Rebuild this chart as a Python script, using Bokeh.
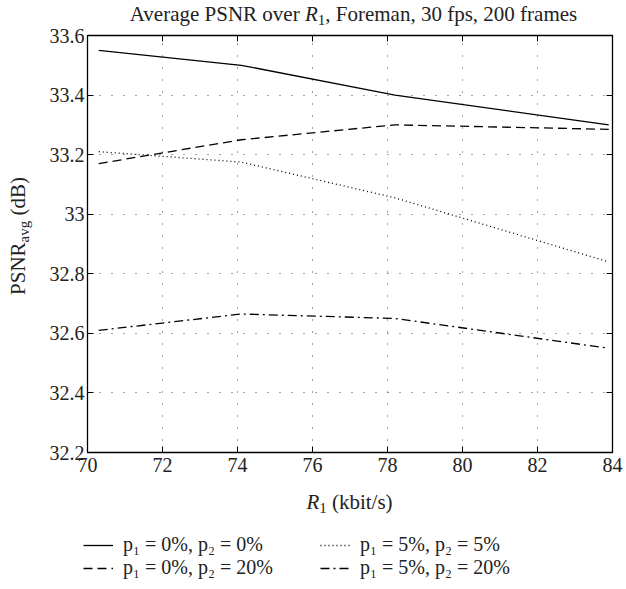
from bokeh.plotting import figure
from bokeh.models import Legend, LegendItem, LinearAxis, FixedTicker, Div
from bokeh.layouts import column, row
from bokeh.embed import file_html
from bokeh.resources import INLINE

# ---- data ----
r1 = [70.3, 74.1, 78.2, 83.9]
psnr_p0_p0 = [33.55, 33.50, 33.40, 33.30]
psnr_p0_p20 = [33.17, 33.25, 33.30, 33.285]
psnr_p5_p5 = [33.21, 33.175, 33.055, 32.84]
psnr_p5_p20 = [32.61, 32.665, 32.65, 32.55]
series_labels = ["p\u2081 = 0%, p\u2082 = 0%", "p\u2081 = 0%, p\u2082 = 20%",
                 "p\u2081 = 5%, p\u2082 = 5%", "p\u2081 = 5%, p\u2082 = 20%"]
series_dashes = ["solid", "9 5", "1 3", "9 4 2 4"]
x_ticks = [70, 72, 74, 76, 78, 80, 82, 84]
x_tick_labels = ["70", "72", "74", "76", "78", "80", "82", "84"]
y_ticks = [32.2, 32.4, 32.6, 32.8, 33.0, 33.2, 33.4, 33.6]
y_tick_labels = ["32.2", "32.4", "32.6", "32.8", "33", "33.2", "33.4", "33.6"]
title_html = "Average PSNR over <i>R</i><span class='s'>1</span>, Foreman, 30 fps, 200 frames"
xlabel_html = "<i>R</i><span class='s'>1</span> (kbit/s)"
ylabel_html = "PSNR<span class='s'>avg</span> (dB)"

FONT = "Liberation Serif"
FS = "20px"
TXT = "#222222"
LW = 1.3

base_css = ("font-family:'Liberation Serif';font-size:21px;color:#222;white-space:nowrap;")
sub_css = "<style>.s{font-size:15px;vertical-align:-4px;}</style>"

# ---- main plot ----
p = figure(width=584, height=471, x_range=(70, 84), y_range=(32.2, 33.6),
           output_backend="svg", toolbar_location=None,
           min_border_left=47, min_border_right=12, min_border_top=12,
           min_border_bottom=42, margin=0)
p.title.visible = False
p.outline_line_color = "black"
p.outline_line_width = LW
p.border_fill_color = None

top_ax = LinearAxis()
right_ax = LinearAxis()
p.add_layout(top_ax, "above")
p.add_layout(right_ax, "right")

for ax in p.xaxis:
    ax.ticker = FixedTicker(ticks=x_ticks)
    ax.major_label_overrides = dict(zip(x_ticks, x_tick_labels))
for ax in p.yaxis:
    ax.ticker = FixedTicker(ticks=y_ticks)
    ax.major_label_overrides = dict(zip(y_ticks, y_tick_labels))

for ax in p.xaxis + p.yaxis:
    ax.major_tick_in = 6
    ax.major_tick_out = 0
    ax.minor_tick_line_color = None
    ax.axis_line_color = None
    ax.major_tick_line_color = "black"
    ax.major_label_text_font = FONT
    ax.major_label_text_font_size = FS
    ax.major_label_text_color = TXT
for ax in (top_ax, right_ax):
    ax.major_label_text_font_size = "0px"
    ax.major_label_text_color = None
    ax.major_label_standoff = 0
p.xaxis[0].major_label_standoff = 9
p.yaxis[0].major_label_standoff = 3

for g in p.xgrid + p.ygrid:
    g.grid_line_color = "#444444"
    g.grid_line_dash = "1 11"
    g.grid_line_width = 1

series = [psnr_p0_p0, psnr_p0_p20, psnr_p5_p5, psnr_p5_p20]
for vals, dash in zip(series, series_dashes):
    p.line(r1, vals, line_color="black", line_width=LW, line_dash=dash)

# ---- legend strip ----
lg = figure(width=624, height=66, x_range=(0, 1), y_range=(0, 1),
            x_axis_location=None, y_axis_location=None,
            output_backend="svg", toolbar_location=None, min_border=0, margin=0)
lg.title.visible = False
lg.grid.visible = False
lg.outline_line_color = None
items = []
for lab, dash in zip(series_labels, series_dashes):
    rr = lg.line(x=[-2, -1], y=[-2, -1], line_color="black", line_width=LW, line_dash=dash)
    items.append(LegendItem(label=lab, renderers=[rr]))
legend = Legend(items=items, ncols=2, location=(83, 7), padding=0, margin=0, spacing=0,
                glyph_width=30, glyph_height=20, label_height=20, label_standoff=10,
                label_width=197, label_text_font=FONT, label_text_font_size=FS,
                label_text_color=TXT, border_line_color=None, background_fill_alpha=0)
lg.add_layout(legend, "center")

# ---- text divs ----
title_div = Div(width=624, height=23, margin=0,
                text=sub_css + f"<div style=\"{base_css}width:525px;margin-left:91px;"
                     f"text-align:center;line-height:12px;padding-top:8px;\">{title_html}</div>")
ylabel_div = Div(width=40, height=471, margin=0,
                 text=sub_css + "<div style='position:relative;width:40px;height:471px;'>"
                      f"<div style=\"{base_css}position:absolute;left:21px;top:213px;line-height:20px;"
                      f"transform:translate(-50%,-50%) rotate(-90deg);\">{ylabel_html}</div></div>")
xlabel_div = Div(width=624, height=26, margin=0,
                 text=sub_css + f"<div style=\"{base_css}width:525px;margin-left:87px;"
                      f"text-align:center;line-height:16px;padding-top:0px;\">{xlabel_html}</div>")

layout = column(title_div, row(ylabel_div, p, spacing=0, margin=0), xlabel_div, lg,
                spacing=0, margin=0)

open("out.html", "w").write(file_html(layout, INLINE))
